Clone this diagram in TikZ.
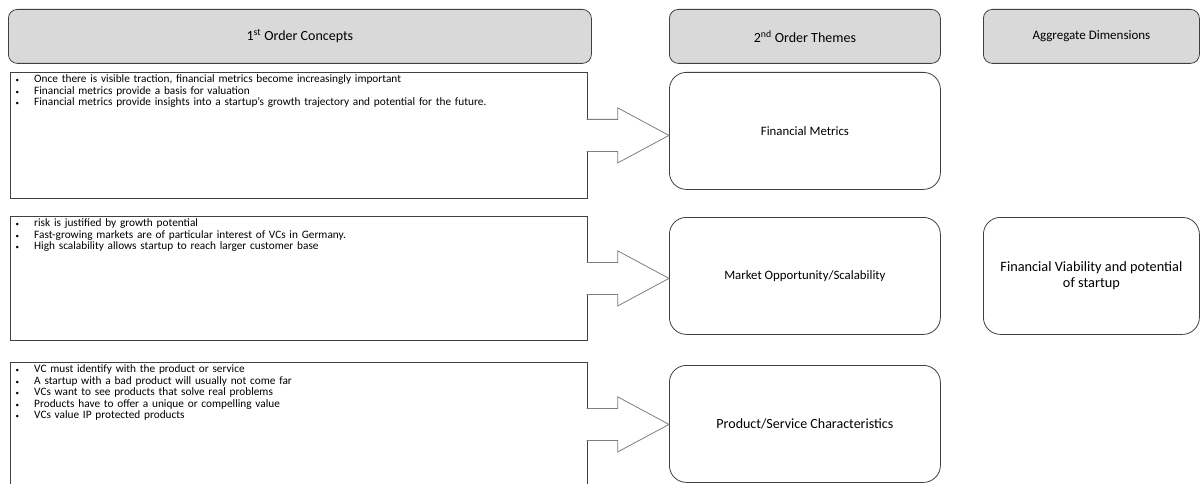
\documentclass[tikz,border=0pt]{standalone}
\usepackage{fontspec}
\setmainfont{Carlito}
\usetikzlibrary{calc}

\definecolor{headfill}{HTML}{D9D9D9}
\definecolor{edge}{HTML}{404040}
\definecolor{arrowedge}{HTML}{7F7F7F}

% one bullet line of a concept list
\newcommand\bulletline[1]{\makebox[20pt][l]{\hspace{1.5pt}\scriptsize\textbullet}#1\par}

\tikzset{
  header/.style={draw=edge, fill=headfill, rounded corners=9pt, line width=0.8pt,
    minimum height=54pt, inner sep=0pt, font=\fontsize{14}{16}\selectfont, anchor=north west},
  conceptbox/.style={draw=edge, line width=0.8pt, inner sep=0pt, anchor=north west,
    minimum width=577pt},
  concepttext/.style={anchor=north west, inner sep=0pt, align=left, text width=560pt,
    font=\fontsize{11.3}{11.6}\selectfont},
  theme/.style={draw=edge, fill=white, rounded corners=17pt, line width=0.8pt,
    minimum width=271pt, minimum height=117pt, inner sep=0pt, anchor=north west,
    font=\fontsize{12.8}{15}\selectfont},
  dimension/.style={theme, minimum width=216pt, align=center,
    font=\fontsize{14.3}{16.5}\selectfont},
  blockarrow/.style={draw=arrowedge, fill=white, line width=0.8pt, line join=miter},
}

\begin{document}
\begin{tikzpicture}[x=1pt, y=-1pt]
  \useasboundingbox (0,0) rectangle (1201,484);
  \clip (0,0) rectangle (1201,484);

  % column headers
  \node[header, minimum width=583pt] (h1) at (8,9) {1\textsuperscript{st} Order Concepts};
  \node[header, minimum width=271pt] (h2) at (669,9) {2\textsuperscript{nd} Order Themes};
  \node[header, minimum width=216pt, font=\fontsize{13}{15}\selectfont] (h3) at (983,9) {Aggregate Dimensions};

  % first-order concept boxes
  \node[conceptbox, minimum height=126pt] (c1) at (10,72) {};
  \node[conceptbox, minimum height=124pt] (c2) at (10,216) {};
  \node[conceptbox, minimum height=124pt] (c3) at (10,362) {};

  \node[concepttext] (l1) at ($(c1.north west)+(4,2.5)$) {%
    \bulletline{Once there is visible traction, financial metrics become increasingly important}
    \bulletline{Financial metrics provide a basis for valuation}
    \bulletline{Financial metrics provide insights into a startup's growth trajectory and potential for the future.}};
  \node[concepttext] (l2) at ($(c2.north west)+(4,2.5)$) {%
    \bulletline{risk is justified by growth potential}
    \bulletline{Fast-growing markets are of particular interest of VCs in Germany.}
    \bulletline{High scalability allows startup to reach larger customer base}};
  \node[concepttext] (l3) at ($(c3.north west)+(4,2.5)$) {%
    \bulletline{VC must identify with the product or service}
    \bulletline{A startup with a bad product will usually not come far}
    \bulletline{VCs want to see products that solve real problems}
    \bulletline{Products have to offer a unique or compelling value}
    \bulletline{VCs value IP protected products}};

  % second-order themes
  \node[theme] (t1) at (669,72) {Financial Metrics};
  \node[theme] (t2) at (669,217) {Market Opportunity/Scalability};
  \node[theme, font=\fontsize{14}{16}\selectfont] (t3) at (669,365) {Product/Service Characteristics};

  % aggregate dimension
  \node[dimension] (d1) at (983,217) {Financial Viability and potential\\of startup};

  % block arrows from each concept box into its theme
  \foreach \c/\t in {c1/t1, c2/t2, c3/t3} {
    \filldraw[blockarrow]
      ($(\c.east)+(-1.2,-16)$) -- ($(\c.east)+(30,-16)$) -- ($(\c.east)+(30,-27.5)$)
      -- (\t.west |- \c.east)
      -- ($(\c.east)+(30,27.5)$) -- ($(\c.east)+(30,16)$) -- ($(\c.east)+(-1.2,16)$);
  }
\end{tikzpicture}
\end{document}
